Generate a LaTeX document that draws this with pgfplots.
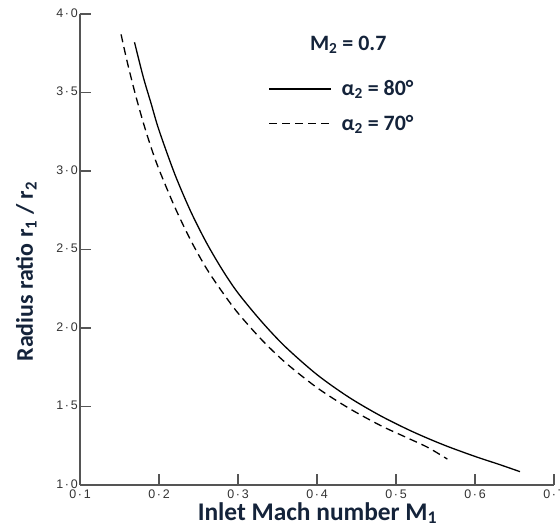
\documentclass[border=0pt]{standalone}
\usepackage{pgfplots}
\pgfplotsset{compat=1.18}
\usepackage{fontspec}
\setmainfont{Carlito}
\newfontfamily\tickfont[LetterSpace=14]{Liberation Sans}
\newfontfamily\lab{Carlito}
\newcommand\tfont{\tickfont\fontsize{12.5}{14}\selectfont}
\definecolor{labcol}{HTML}{14233A}
\definecolor{axcol}{HTML}{555555}
\begin{document}
\begin{tikzpicture}
\useasboundingbox (-80bp,-43bp) rectangle (480bp,485bp);
\begin{axis}[
  at={(0,0)}, anchor=south west,
  scale only axis, width=474bp, height=471bp,
  xmin=0.1, xmax=0.7, ymin=1, ymax=4,
  axis x line*=bottom, axis y line*=left,
  xtick={0.1,0.2,0.3,0.4,0.5,0.6,0.7},
  xticklabels={0·1,0·2,0·3,0·4,0·5,0·6,0·7},
  ytick={1,1.5,2,2.5,3,3.5,4},
  yticklabels={1·0,1·5,2·0,2·5,3·0,3·5,4·0},
  tick align=inside, major tick length=11bp,
  axis line style={axcol, line width=1.2bp},
  tick style={axcol, line width=1.2bp},
  xticklabel style={font=\tfont, text=black!80, inner sep=2bp, yshift=-3bp},
  yticklabel style={font=\tfont, text=black!80, inner sep=2bp, yshift=0.8bp},
  xlabel={Inlet Mach number M\textsubscript{1}},
  ylabel={Radius ratio r\textsubscript{1} / r\textsubscript{2}},
  label style={font=\lab\bfseries\fontsize{24}{28}\selectfont, text=labcol},
  xlabel style={at={(rel axis cs:0.501,0)}, anchor=base, yshift=-35bp, font=\lab\bfseries\fontsize{25.5}{28}\selectfont},
  ylabel style={at={(rel axis cs:-0.0992,0.453)}, anchor=base},
  legend image code/.code={\draw[#1] (0bp,0bp) -- (62bp,0bp);},
  legend style={draw=none, fill=none, inner sep=0pt,
    at={(rel axis cs:0.397,0.804)}, anchor=west,
    font=\lab\bfseries\fontsize{22}{26}\selectfont, text=labcol,
    row sep=18bp,
    nodes={inner sep=0pt},
    /tikz/every odd column/.style={column sep=10bp}},
  legend cell align=left,
  clip=false,
]
\addplot[black, line width=1.3bp, smooth] coordinates {
 (0.169,3.82) (0.18,3.60) (0.19,3.43) (0.20,3.26) (0.22,2.98)
 (0.24,2.744) (0.26,2.544) (0.28,2.372) (0.30,2.223) (0.33,2.04)
 (0.36,1.88) (0.40,1.703) (0.44,1.56) (0.48,1.442) (0.52,1.342)
 (0.56,1.256) (0.60,1.182) (0.63,1.132) (0.657,1.085)};
\addlegendentry{α\textsubscript{2} = 80°}
\addplot[black, line width=1.3bp, smooth, dash pattern=on 8bp off 5bp] coordinates {
 (0.152,3.87) (0.16,3.69) (0.17,3.49) (0.18,3.31) (0.19,3.15)
 (0.20,3.01) (0.22,2.77) (0.24,2.56) (0.26,2.38) (0.28,2.23)
 (0.30,2.095) (0.33,1.925) (0.36,1.78) (0.40,1.62) (0.44,1.49)
 (0.48,1.38) (0.51,1.31) (0.54,1.24) (0.565,1.165)};
\addlegendentry{α\textsubscript{2} = 70°}
\node[anchor=west, font=\lab\bfseries\fontsize{22}{26}\selectfont, text=labcol, inner sep=0pt]
  at (rel axis cs:0.485,0.934) {M\textsubscript{2} = 0.7};
\end{axis}
\end{tikzpicture}
\end{document}
